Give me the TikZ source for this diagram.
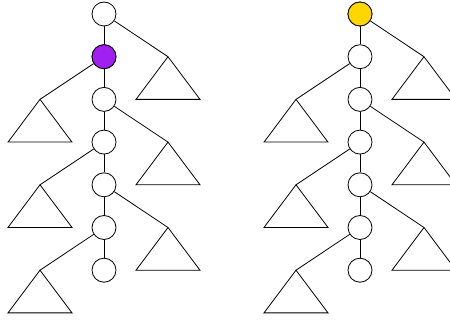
\documentclass[tikz,border=0pt]{standalone}
\usepackage{tikz}
\definecolor{markpurple}{HTML}{A020F0}
\definecolor{markgold}{HTML}{FFD700}
\tikzset{vert/.style={circle,draw,fill=white,minimum size=24pt,inner sep=0pt}}

\begin{document}
\begin{tikzpicture}[x=1pt,y=-1pt,line width=0.8pt]
	\useasboundingbox[clip] (0,0) rectangle (450,320);
	% left tree, second vertex marked
	\foreach \i in {0,...,6} \node[vert] (a\i) at (104,14+42.7*\i) {};
	\node[vert,fill=markpurple] at (a1) {};
	% right tree, root marked
	\foreach \i in {0,...,6} \node[vert] (b\i) at (360,14+42.7*\i) {};
	\node[vert,fill=markgold] at (b0) {};
	\foreach \t/\x in {a/104,b/360} {
		\foreach \i [evaluate=\i as \j using int(\i+1)] in {0,...,5} {
			\draw (\t\i) -- (\t\j);
			\pgfmathsetmacro{\s}{ifthenelse(mod(\i,2)==0,1,-1)}
			\coordinate (t\t\i) at (\x+64*\s,14+42.7*\j);
			\draw (\t\i) -- (t\t\i);
			\draw (t\t\i) -- ++(-32,42.7) -- ++(64,0) -- cycle;
		}
	}
	%\draw (a6) -- ++(0,30);
\end{tikzpicture}
\end{document}
